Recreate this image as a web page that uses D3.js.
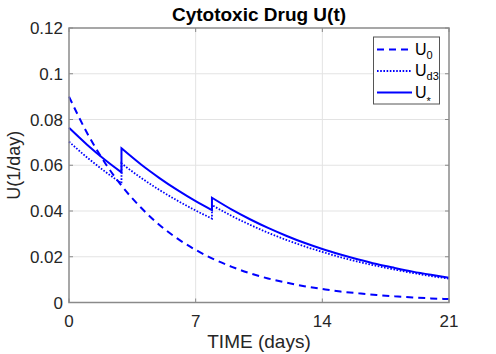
<!DOCTYPE html>
<html>
<head>
<meta charset="utf-8">
<script src="https://cdn.jsdelivr.net/npm/d3@7"></script>
<style>
  body { margin: 0; background: #fff; }
  svg { display: block; font-family: "Liberation Sans", Arial, Helvetica, sans-serif; }
</style>
</head>
<body>
<div id="chart"></div>
<script>
// time points (days); repeated entries mark the dose jumps
var days = [0, 1, 2, 2.9, 2.9, 4, 5, 6, 7, 7.9, 7.9, 9, 10, 11, 12, 13, 14, 15, 16, 17, 18, 19, 20, 21];
var u0 = [0.0900, 0.0741, 0.0609, 0.0511, 0.0511, 0.0413, 0.0339, 0.0279, 0.0230, 0.0193, 0.0193, 0.0156,
          0.0128, 0.0105, 0.0087, 0.0071, 0.0059, 0.0048, 0.0040, 0.0033, 0.0027, 0.0022, 0.0018, 0.0015];
var ud3 = [0.0703, 0.0634, 0.0572, 0.0521, 0.0608, 0.0544, 0.0492, 0.0445, 0.0402, 0.0367, 0.0426, 0.0378,
           0.0340, 0.0305, 0.0274, 0.0246, 0.0221, 0.0198, 0.0178, 0.0160, 0.0144, 0.0129, 0.0116, 0.0104];
var uStar = [0.0764, 0.0690, 0.0623, 0.0569, 0.0674, 0.0602, 0.0544, 0.0491, 0.0443, 0.0404, 0.0458, 0.0406,
             0.0364, 0.0326, 0.0292, 0.0261, 0.0234, 0.0210, 0.0188, 0.0168, 0.0151, 0.0135, 0.0121, 0.0108];
var xTicks = [0, 7, 14, 21];
var yTicks = [0, 0.02, 0.04, 0.06, 0.08, 0.1, 0.12];

var w = 496, h = 354;
var pLeft = 69, pRight = 449, pTop = 28, pBottom = 302.5;

var svg = d3.select("#chart").append("svg")
    .attr("width", w)
    .attr("height", h);

var x = d3.scaleLinear().domain([0, 21]).range([pLeft, pRight]);
var y = d3.scaleLinear().domain([0, 0.12]).range([pBottom, pTop]);

// grid
svg.append("g").selectAll("line")
    .data(xTicks.slice(1, -1))
    .enter().append("line")
    .attr("x1", function (d) { return x(d); })
    .attr("x2", function (d) { return x(d); })
    .attr("y1", pTop).attr("y2", pBottom)
    .style("stroke", "#e3e3e3").style("stroke-width", "1px");
svg.append("g").selectAll("line")
    .data(yTicks.slice(1, -1))
    .enter().append("line")
    .attr("y1", function (d) { return y(d); })
    .attr("y2", function (d) { return y(d); })
    .attr("x1", pLeft).attr("x2", pRight)
    .style("stroke", "#e3e3e3").style("stroke-width", "1px");

// series, split into smooth pieces at the jumps
function segments(vals) {
    var segs = [], cur = [];
    days.forEach(function (t, i) {
        if (i > 0 && t === days[i - 1]) {
            if (vals[i] === vals[i - 1]) return;
            segs.push(cur);
            cur = [];
        }
        cur.push([t, vals[i]]);
    });
    segs.push(cur);
    return segs;
}

var line = d3.line()
    .x(function (d) { return x(d[0]); })
    .y(function (d) { return y(d[1]); })
    .curve(d3.curveMonotoneX);

function drawSeries(vals, dash, width) {
    var d = segments(vals).map(function (s, k) {
        var p = line(s);
        return k === 0 ? p : "L" + p.slice(1);
    }).join("");
    svg.append("path")
        .attr("d", d)
        .style("fill", "none")
        .style("stroke", "#0000ff")
        .style("stroke-width", width + "px")
        .style("stroke-dasharray", dash);
}

drawSeries(u0, "7,5", 2);
drawSeries(ud3, "1.6,1.6", 1.8);
drawSeries(uStar, null, 2);

// axes box
var axisColor = "#8a8a8a";
svg.append("rect")
    .attr("x", pLeft).attr("y", pTop)
    .attr("width", pRight - pLeft).attr("height", pBottom - pTop)
    .style("fill", "none").style("stroke", axisColor).style("stroke-width", "1.5px");

var tk = 4;
xTicks.forEach(function (t) {
    svg.append("line").attr("x1", x(t)).attr("x2", x(t)).attr("y1", pBottom).attr("y2", pBottom - tk)
        .style("stroke", axisColor).style("stroke-width", "1px");
    svg.append("line").attr("x1", x(t)).attr("x2", x(t)).attr("y1", pTop).attr("y2", pTop + tk)
        .style("stroke", axisColor).style("stroke-width", "1px");
});
yTicks.forEach(function (t) {
    svg.append("line").attr("x1", pLeft).attr("x2", pLeft + tk).attr("y1", y(t)).attr("y2", y(t))
        .style("stroke", axisColor).style("stroke-width", "1px");
    svg.append("line").attr("x1", pRight).attr("x2", pRight - tk).attr("y1", y(t)).attr("y2", y(t))
        .style("stroke", axisColor).style("stroke-width", "1px");
});

// tick labels
svg.append("g").selectAll("text")
    .data(xTicks)
    .enter().append("text")
    .attr("x", function (d) { return x(d); })
    .attr("y", pBottom + 24.5)
    .attr("text-anchor", "middle")
    .style("font-size", "17px")
    .style("fill", "#262626")
    .text(function (d) { return d; });
svg.append("g").selectAll("text")
    .data(yTicks)
    .enter().append("text")
    .attr("x", pLeft - 6)
    .attr("y", function (d) { return y(d) + 6; })
    .attr("text-anchor", "end")
    .style("font-size", "17px")
    .style("fill", "#262626")
    .text(function (d) { return d; });

// titles
svg.append("text")
    .attr("x", (pLeft + pRight) / 2)
    .attr("y", 21)
    .attr("text-anchor", "middle")
    .style("font-size", "19px")
    .style("font-weight", "bold")
    .style("fill", "#000")
    .text("Cytotoxic Drug U(t)");
svg.append("text")
    .attr("x", (pLeft + pRight) / 2)
    .attr("y", 348)
    .attr("text-anchor", "middle")
    .style("font-size", "19px")
    .style("fill", "#262626")
    .text("TIME (days)");
svg.append("text")
    .attr("transform", "translate(20," + ((pTop + pBottom) / 2) + ") rotate(-90)")
    .attr("text-anchor", "middle")
    .style("font-size", "18px")
    .style("fill", "#262626")
    .text("U(1/day)");

// legend
var legend = [
    { name: "U", sub: "0", dash: "7,5", width: 2, subDy: 4 },
    { name: "U", sub: "d3", dash: "1.6,1.6", width: 1.8, subDy: 4 },
    { name: "U", sub: "*", dash: null, width: 2, subDy: 7 }
];
var lg = svg.append("g");
lg.append("rect")
    .attr("x", 373.5).attr("y", 37)
    .attr("width", 66).attr("height", 67)
    .style("fill", "#fff").style("stroke", "#555").style("stroke-width", "1px");
legend.forEach(function (d, i) {
    var ly = 49.5 + i * 21.5;
    lg.append("line")
        .attr("x1", 377).attr("x2", 412).attr("y1", ly).attr("y2", ly)
        .style("stroke", "#0000ff").style("stroke-width", d.width + "px")
        .style("stroke-dasharray", d.dash);
    var t = lg.append("text")
        .attr("x", 415).attr("y", ly + 5)
        .style("font-size", "16px")
        .style("fill", "#000");
    t.append("tspan").text(d.name);
    t.append("tspan").attr("dy", d.subDy).style("font-size", "11px").text(d.sub);
});
</script>
</body>
</html>
